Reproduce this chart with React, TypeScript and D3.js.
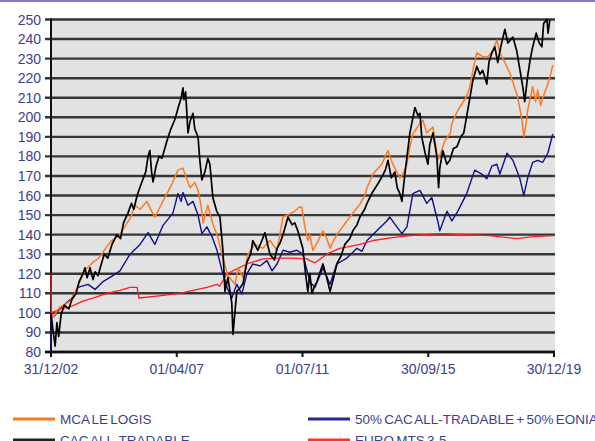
import * as d3 from 'd3';

type Pt = [number, number];

const yTicks = [80, 90, 100, 110, 120, 130, 140, 150, 160, 170, 180, 190, 200, 210, 220, 230, 240, 250];
const xTickYears = [2003, 2007.25, 2011.5, 2015.75, 2020];
const xTickLabels = ['31/12/02', '01/04/07', '01/07/11', '30/09/15', '30/12/19'];

const cacAll: Pt[] = [
  [2003.0, 100], [2003.06, 92], [2003.14, 83], [2003.2, 95], [2003.26, 88], [2003.34, 99], [2003.45, 104],
  [2003.6, 102], [2003.71, 107], [2003.85, 110], [2003.95, 116], [2004.08, 120], [2004.15, 123], [2004.22, 118],
  [2004.32, 123], [2004.42, 117], [2004.49, 121], [2004.59, 119], [2004.7, 125], [2004.8, 130], [2004.92, 128],
  [2005.06, 135], [2005.23, 140], [2005.35, 138], [2005.45, 146], [2005.6, 151], [2005.72, 156], [2005.8, 153],
  [2005.91, 160], [2006.05, 166], [2006.2, 172], [2006.28, 180], [2006.34, 183], [2006.4, 172], [2006.45, 167],
  [2006.55, 175], [2006.65, 180], [2006.75, 179], [2006.92, 188], [2007.05, 194], [2007.19, 199], [2007.3, 205],
  [2007.4, 210], [2007.46, 215], [2007.49, 209], [2007.55, 213], [2007.63, 192], [2007.7, 198], [2007.8, 202],
  [2007.86, 194], [2007.97, 190], [2008.03, 178], [2008.1, 168], [2008.2, 172], [2008.3, 179], [2008.37, 176],
  [2008.47, 159], [2008.6, 152], [2008.71, 149], [2008.81, 132], [2008.88, 111], [2008.98, 118], [2009.11, 105],
  [2009.15, 89], [2009.22, 101], [2009.28, 111], [2009.4, 113], [2009.49, 115], [2009.62, 126], [2009.75, 130],
  [2009.82, 137], [2009.99, 132], [2010.1, 136], [2010.23, 141], [2010.32, 135], [2010.4, 130], [2010.55, 127],
  [2010.64, 133], [2010.75, 136], [2010.84, 140], [2011.01, 149], [2011.15, 145], [2011.24, 146], [2011.34, 142],
  [2011.51, 133], [2011.62, 118], [2011.68, 111], [2011.75, 120], [2011.82, 110], [2011.92, 114], [2011.99, 116],
  [2012.1, 121], [2012.19, 125], [2012.32, 118], [2012.43, 111], [2012.55, 118], [2012.66, 125], [2012.8, 129],
  [2012.93, 135], [2013.1, 138], [2013.2, 142], [2013.34, 145], [2013.44, 149], [2013.6, 153], [2013.68, 156],
  [2013.84, 161], [2014.05, 166], [2014.2, 170], [2014.3, 173], [2014.39, 178], [2014.5, 169], [2014.62, 172],
  [2014.7, 164], [2014.79, 161], [2014.86, 157], [2014.96, 171], [2015.13, 192], [2015.3, 205], [2015.4, 201],
  [2015.47, 202], [2015.53, 190], [2015.64, 182], [2015.74, 176], [2015.8, 186], [2015.91, 192], [2016.04, 180],
  [2016.1, 164], [2016.14, 174], [2016.24, 183], [2016.38, 176], [2016.48, 178], [2016.6, 184], [2016.72, 185],
  [2016.85, 190], [2016.95, 192], [2017.09, 204], [2017.18, 212], [2017.26, 219], [2017.39, 226], [2017.5, 222],
  [2017.59, 224], [2017.73, 217], [2017.8, 228], [2017.9, 233], [2018.0, 236], [2018.1, 228], [2018.2, 236],
  [2018.34, 245], [2018.44, 238], [2018.61, 241], [2018.74, 234], [2018.84, 225], [2018.95, 215], [2019.01, 208],
  [2019.11, 221], [2019.2, 230], [2019.28, 236], [2019.4, 243], [2019.5, 238], [2019.59, 236], [2019.65, 248],
  [2019.76, 250], [2019.8, 243], [2019.86, 250],
];

const mcaLeLogis: Pt[] = [
  [2003.0, 100], [2003.1, 98], [2003.2, 101], [2003.3, 103], [2003.45, 104], [2003.64, 106], [2003.8, 110],
  [2003.95, 115], [2004.08, 120], [2004.15, 122], [2004.3, 124], [2004.42, 126], [2004.59, 127.6], [2004.76, 131],
  [2004.89, 134], [2005.06, 137], [2005.33, 140], [2005.57, 146], [2005.7, 149], [2005.84, 155], [2006.01, 153],
  [2006.24, 157], [2006.4, 152], [2006.51, 149], [2006.65, 153], [2006.78, 157], [2006.92, 161], [2007.09, 166],
  [2007.29, 173], [2007.46, 174], [2007.55, 170], [2007.7, 164], [2007.86, 166.7], [2007.97, 162.6], [2008.07, 155],
  [2008.14, 146], [2008.3, 155], [2008.47, 145.6], [2008.64, 138.5], [2008.81, 128], [2008.98, 119], [2009.22, 114.6],
  [2009.32, 123], [2009.49, 118], [2009.66, 130], [2009.89, 135], [2010.16, 133], [2010.4, 137], [2010.64, 132],
  [2010.84, 149], [2011.07, 150.6], [2011.24, 152], [2011.38, 154], [2011.48, 154], [2011.58, 144], [2011.68, 137],
  [2011.75, 140], [2011.85, 132], [2012.0, 136], [2012.19, 142], [2012.32, 138], [2012.43, 133], [2012.55, 137],
  [2012.66, 140], [2012.86, 144], [2013.1, 149], [2013.25, 152], [2013.44, 155.6], [2013.6, 160], [2013.68, 164],
  [2013.88, 171], [2014.18, 176], [2014.39, 183], [2014.5, 178], [2014.62, 174], [2014.79, 169], [2014.89, 171],
  [2015.03, 176], [2015.13, 185], [2015.23, 191.5], [2015.3, 193], [2015.47, 197], [2015.57, 198.5], [2015.7, 192],
  [2015.91, 195], [2016.0, 186], [2016.07, 178], [2016.2, 183], [2016.31, 188], [2016.5, 192], [2016.55, 197],
  [2016.75, 203.6], [2017.02, 210], [2017.15, 215], [2017.26, 224], [2017.39, 233], [2017.59, 231], [2017.76, 231],
  [2017.93, 234], [2018.07, 239.5], [2018.17, 233], [2018.34, 228], [2018.51, 222.5], [2018.74, 212], [2018.84, 205],
  [2018.92, 198], [2018.98, 190], [2019.05, 196], [2019.11, 203.6], [2019.28, 215.6], [2019.38, 208], [2019.45, 214],
  [2019.55, 206], [2019.62, 210], [2019.76, 215.6], [2019.86, 220.5], [2019.96, 226.7],
];

const mixEonia: Pt[] = [
  [2003.0, 80], [2003.01, 100], [2003.1, 98], [2003.24, 101], [2003.41, 103.6], [2003.71, 107.6], [2003.91, 113],
  [2004.25, 114.6], [2004.49, 112], [2004.76, 116], [2005.09, 119], [2005.33, 121.5], [2005.67, 130], [2006.01, 135],
  [2006.28, 141], [2006.51, 135], [2006.78, 144.6], [2007.12, 151], [2007.29, 161], [2007.4, 157], [2007.46, 161.6],
  [2007.63, 155], [2007.8, 157], [2007.97, 150], [2008.1, 140.5], [2008.27, 144], [2008.44, 139], [2008.61, 132],
  [2008.78, 121.5], [2008.95, 113], [2009.11, 107.6], [2009.28, 114.6], [2009.45, 109.6], [2009.62, 120], [2009.82, 125],
  [2010.06, 124], [2010.3, 126.7], [2010.47, 121.5], [2010.64, 125], [2010.84, 132], [2011.07, 131], [2011.31, 132],
  [2011.51, 130], [2011.68, 120], [2011.75, 116], [2011.92, 113], [2012.19, 123], [2012.43, 114.6], [2012.66, 125],
  [2013.0, 128], [2013.34, 133], [2013.51, 131.5], [2013.68, 137], [2014.01, 142], [2014.35, 147], [2014.45, 149],
  [2014.69, 144], [2014.86, 140.5], [2015.03, 144], [2015.23, 161], [2015.47, 162.6], [2015.7, 156], [2015.87, 159],
  [2016.07, 147], [2016.14, 142], [2016.38, 152], [2016.55, 147], [2016.75, 152], [2017.05, 161], [2017.32, 173],
  [2017.56, 171], [2017.73, 168.6], [2017.9, 175], [2018.07, 176], [2018.17, 171], [2018.41, 181.6], [2018.61, 178],
  [2018.84, 169], [2018.98, 160], [2019.11, 169], [2019.28, 177], [2019.45, 178], [2019.62, 177], [2019.79, 181.6],
  [2019.96, 191.5],
];

const euroMts: Pt[] = [
  [2003.0, 120], [2003.01, 100], [2003.3, 102], [2003.64, 103], [2003.88, 104.6], [2004.08, 106], [2004.42, 107.6],
  [2004.89, 110], [2005.33, 111.5], [2005.67, 113], [2005.91, 113], [2005.97, 107.6], [2006.58, 108.6], [2007.36, 110],
  [2007.8, 111.5], [2008.27, 113], [2008.61, 114.6], [2008.7, 113.6], [2008.95, 120], [2009.28, 122.5], [2009.62, 125],
  [2010.16, 127.6], [2010.64, 128], [2011.07, 128], [2011.65, 127.6], [2011.75, 126.7], [2011.92, 125.6], [2012.32, 130],
  [2012.76, 133], [2013.44, 135], [2013.88, 137], [2014.55, 138.5], [2015.13, 139.5], [2016.14, 140.5], [2017.0, 140],
  [2017.8, 139.5], [2018.74, 138], [2019.3, 139], [2020.0, 139.5],
];

const W = 595;
const H = 441;
const left = 51;
const right = 554;
const top = 19.5;
const bottom = 352;
const labelColor = '#3e3e8e';

const x = d3.scaleLinear().domain([2003, 2020]).range([left, right]);
const y = d3.scaleLinear().domain([80, 250]).range([bottom, top]);
const line = d3.line<Pt>().x(d => x(d[0])).y(d => y(d[1]));

const series = [
  { data: mixEonia, color: '#10108a', width: 1.4 },
  { data: euroMts, color: '#ff1f1f', width: 1.3 },
  { data: mcaLeLogis, color: '#ff7a1e', width: 1.5 },
  { data: cacAll, color: '#000000', width: 1.7 },
];

const legendItems = [
  { label: 'MCA LE LOGIS', color: '#ff7a1e', lx: 13, ly: 419 },
  { label: 'CAC ALL-TRADABLE', color: '#222222', lx: 13, ly: 440 },
  { label: '50% CAC ALL-TRADABLE + 50% EONIA', color: '#2a2a8a', lx: 308, ly: 419 },
  { label: 'EURO MTS 3-5', color: '#ff3030', lx: 308, ly: 440 },
];

export default function App() {
  return (
    <svg width={W} height={H} style={{ position: 'absolute', left: 0, top: 0, background: '#fff' }}
      fontFamily="'Liberation Sans', Arial, sans-serif">
      <rect x={0} y={0} width={W} height={2} fill="#7b7bc6" />
      <rect x={left} y={top - 1} width={right - left + 1} height={bottom - top + 1} fill="#e2e2e2" />
      {yTicks.map(t => (
        <g key={t}>
          <line x1={left - 6} x2={right + 1} y1={y(t)} y2={y(t)} stroke="#363636" strokeWidth={2.4} />
          <text x={41} y={y(t) + 5} textAnchor="end" fontSize={14} fill={labelColor}>{t}</text>
        </g>
      ))}
      <line x1={left} x2={left} y1={top - 1} y2={bottom} stroke="#111" strokeWidth={2} />
      <line x1={left - 6} x2={right + 1} y1={bottom} y2={bottom} stroke="#111" strokeWidth={2.4} />
      {xTickYears.map((t, i) => (
        <g key={t}>
          <line x1={x(t)} x2={x(t)} y1={bottom} y2={bottom + 5} stroke="#111" strokeWidth={2} />
          <text x={x(t)} y={374} textAnchor="middle" fontSize={14} fill={labelColor}>{xTickLabels[i]}</text>
        </g>
      ))}
      <g fill="none" strokeLinejoin="round">
        {series.map((s, i) => (
          <path key={i} d={line(s.data) ?? ''} stroke={s.color} strokeWidth={s.width} />
        ))}
      </g>
      {legendItems.map(l => (
        <g key={l.label}>
          <line x1={l.lx} x2={l.lx + 42} y1={l.ly} y2={l.ly} stroke={l.color} strokeWidth={3} />
          <text x={l.lx + 47} y={l.ly + 5} fontSize={13.5} wordSpacing={-1.5} fill={labelColor}>{l.label}</text>
        </g>
      ))}
    </svg>
  );
}
